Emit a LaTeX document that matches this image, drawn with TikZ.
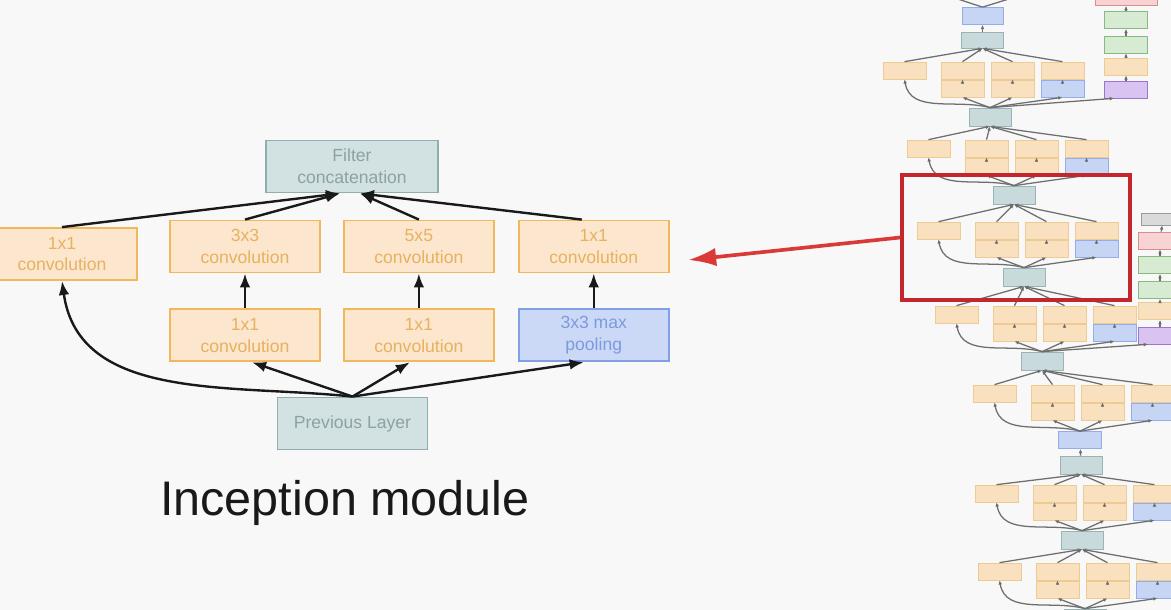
\documentclass[tikz,border=0pt]{standalone}
\usepackage{fontspec}
\setmainfont{Liberation Sans}
\usetikzlibrary{arrows, arrows.meta, positioning, calc}
\definecolor{conv_edge}{HTML}{F0B85A}
\definecolor{conv_fill}{HTML}{FCE6CE}
\definecolor{conv_text}{HTML}{E6B25E}
\definecolor{pool_edge}{HTML}{7F9FE6}
\definecolor{pool_fill}{HTML}{CBD9F6}
\definecolor{pool_text}{HTML}{7C9AE0}
\definecolor{cat_edge}{HTML}{8FAEB0}
\definecolor{cat_fill}{HTML}{D2E1E2}
\definecolor{cat_text}{HTML}{8CA2A5}
\definecolor{lens_red}{HTML}{C3262D}
\definecolor{arrow_red}{HTML}{D93A37}
\definecolor{page_bg}{HTML}{F8F8F8}
\definecolor{th_orange}{HTML}{F9E1C0}
\definecolor{th_orange_e}{HTML}{EFCB94}
\definecolor{th_teal}{HTML}{C8DADB}
\definecolor{th_teal_e}{HTML}{9AB4B6}
\definecolor{th_blue}{HTML}{C6D5F4}
\definecolor{th_blue_e}{HTML}{93ADE8}
\definecolor{th_green}{HTML}{D6EBD2}
\definecolor{th_green_e}{HTML}{86BA82}
\definecolor{th_pink}{HTML}{F7D3D3}
\definecolor{th_pink_e}{HTML}{DC8C8C}
\definecolor{th_purple}{HTML}{D9C4F1}
\definecolor{th_purple_e}{HTML}{9C74D2}
\definecolor{th_gray}{HTML}{DADADA}
\definecolor{th_gray_e}{HTML}{9A9A9A}
\definecolor{th_line}{HTML}{6E6E6E}
\tikzset{
  conv/.style={draw=conv_edge,fill=conv_fill,text=conv_text,line width=1.3pt,minimum width=3.75cm,minimum height=1.3cm,inner sep=0,align=center,font=\fontsize{12.5}{15.5}\selectfont},
  pool/.style={conv,draw=pool_edge,fill=pool_fill,text=pool_text},
  concat/.style={conv,draw=cat_edge,fill=cat_fill,text=cat_text},
  flow/.style={line width=1.7pt,-{Latex[length=10pt,width=7.5pt]},black!90},
  mini/.style={draw=th_orange_e,fill=th_orange,line width=0.5pt,minimum width=1.075cm,minimum height=0.425cm,inner sep=0},
  mini_teal/.style={mini,draw=th_teal_e,fill=th_teal,minimum width=1.05cm,minimum height=0.45cm},
  mini_blue/.style={mini,draw=th_blue_e,fill=th_blue},
  mini_green/.style={mini,draw=th_green_e,fill=th_green},
  mini_pink/.style={mini,draw=th_pink_e,fill=th_pink},
  mini_purple/.style={mini,draw=th_purple_e,fill=th_purple},
  mini_gray/.style={mini,draw=th_gray_e,fill=th_gray,minimum height=0.3cm},
  minilink/.style={th_line,line width=0.9pt,-{Latex[length=3pt,width=2.6pt]}},
  lens/.style={draw=lens_red,line width=2.4pt,minimum width=5.7cm,minimum height=3.125cm,inner sep=0},
  pointer/.style={arrow_red,line width=2.6pt,-{Latex[length=20pt,width=13pt]}},
}
% one module of the small network: #1 name, #2 left, #3 top, #4 node above, #5 style of node below
\newcommand{\incmod}[5]{%
  \node[mini] (#1a) at ({#2+21.5},{#3+8.5}) {};
  \node[mini] (#1b) at ({#2+79.5},{#3+8.5}) {};
  \node[mini] (#1c) at ({#2+129.5},{#3+8.5}) {};
  \node[mini] (#1d) at ({#2+179.5},{#3+8.5}) {};
  \node[mini] (#1e) at ({#2+79.5},{#3+26.5}) {};
  \node[mini] (#1f) at ({#2+129.5},{#3+26.5}) {};
  \node[mini_blue] (#1g) at ({#2+179.5},{#3+26.5}) {};
  \node[#5] (#1low) at ({#2+107},{#3+55}) {};
  \foreach \br in {a,b,c,d} \draw[minilink] (#1\br.north) -- (#4.south);
  \draw[minilink] (#1low.north) to[out=165,in=-80] (#1a.south);
  \foreach \br in {e,f,g} \draw[minilink] (#1low.north) -- (#1\br.south);
  \draw[minilink] ([yshift=-3pt]#1b.south) -- (#1b.south);
  \draw[minilink] ([yshift=-3pt]#1c.south) -- (#1c.south);
  \draw[minilink] ([yshift=-3pt]#1d.south) -- (#1d.south);
}

\begin{document}
\begin{tikzpicture}[x=0.025cm,y=-0.025cm]
  \useasboundingbox (0,0) rectangle (1171,610);
  \fill[page_bg] (0,0) rectangle (1171,610);
  \begin{scope}
    \clip (0,0) rectangle (1171,610);
    % inception module
    \node[concat,minimum width=4.3cm] (cat) at (352,166.5) {Filter\\concatenation};
    \node[conv] (c3) at (245,246.5) {3x3\\convolution};
    \node[conv,right=0.55cm of c3] (c5) {5x5\\convolution};
    \node[conv,right=0.575cm of c5] (c1r) {1x1\\convolution};
    \node[conv] (c1l) at (62,254) {1x1\\convolution};
    \node[conv,below=0.875cm of c3] (r3) {1x1\\convolution};
    \node[conv,below=0.875cm of c5] (r5) {1x1\\convolution};
    \node[pool,below=0.875cm of c1r] (mp) {3x3 max\\pooling};
    \node[concat] (prev) at (352.5,423.5) {Previous Layer};
    \node[anchor=base,font=\fontsize{34.5}{40}\selectfont,text=black!90] (title) at (345,515) {Inception module};

    \draw[flow] (c1l.north) -- ([xshift=-0.3cm]cat.south);
    \draw[flow] (c3.north) -- ([xshift=-0.3cm]cat.south);
    \draw[flow] (c5.north) -- ([xshift=0.2cm]cat.south);
    \draw[flow] ([xshift=-0.3cm]c1r.north) -- ([xshift=0.2cm]cat.south);
    \draw[flow] (r3) -- (c3);
    \draw[flow] (r5) -- (c5);
    \draw[flow] (mp) -- (c1r);
    \draw[flow] (prev.north) to[out=174,in=-82] (c1l.south);
    \draw[flow] (prev.north) -- ([xshift=0.175cm]r3.south);
    \draw[flow] (prev.north) -- ([xshift=-0.225cm]r5.south);
    \draw[flow] (prev.north) -- ([xshift=-0.25cm]mp.south);

    % the whole network, small
    \node[mini_blue,minimum width=1.025cm] (toppool) at (982.5,16) {};
    \node[mini_teal,minimum height=0.4cm] (topcat) at (982.5,40) {};
    \coordinate (upl) at (900,-20);
    \coordinate (upr) at (1070,-20);
    \draw[minilink] (topcat) -- (toppool);
    \draw[minilink] (toppool.north) -- (upl);
    \draw[minilink] (toppool.north) -- (upr);
    \incmod{ma}{883}{62}{topcat}{mini_teal}
    \incmod{mb}{907}{140}{malow}{mini_teal}
    \incmod{mc}{917}{222}{mblow}{mini_teal}
    \incmod{md}{935}{306}{mclow}{mini_teal}
    \incmod{me}{973}{385}{mdlow}{mini_blue}
    \node[mini_teal] (mecat) at (1081,465) {};
    \draw[minilink] (mecat) -- (melow);
    \incmod{mf}{975}{485}{mecat}{mini_teal}
    \incmod{mg}{978}{563}{mflow}{mini_teal}

    % side branches
    \node[mini_pink,minimum width=1.55cm] (asoft) at (1126,-3) {};
    \node[mini_green] (afcb) at (1126,20) {};
    \node[mini_green] (afca) at (1126,44.5) {};
    \node[mini] (aconv) at (1126,66.5) {};
    \node[mini_purple] (apool) at (1126,89.5) {};
    \draw[minilink] (apool) -- (aconv);
    \draw[minilink] (aconv) -- (afca);
    \draw[minilink] (afca) -- (afcb);
    \draw[minilink] (afcb) -- (asoft);
    \draw[minilink] (malow.north) -- ([xshift=-0.3cm]apool.south);

    \node[mini_gray] (bsoftx) at (1163,219) {};
    \node[mini_pink] (bsoft) at (1160,240.5) {};
    \node[mini_green] (bfcb) at (1160,265) {};
    \node[mini_green] (bfca) at (1160,290) {};
    \node[mini] (bconv) at (1160,311) {};
    \node[mini_purple] (bpool) at (1160,335.5) {};
    \draw[minilink] (bpool) -- (bconv);
    \draw[minilink] (bconv) -- (bfca);
    \draw[minilink] (bfca) -- (bfcb);
    \draw[minilink] (bfcb) -- (bsoft);
    \draw[minilink] (bsoft) -- (bsoftx);
    \draw[minilink] (mdlow.north) -- ([xshift=-0.3cm]bpool.south);

    % highlight
    \node[lens] (lens) at (1016,237.5) {};
    \coordinate (target) at (688,260);
    \draw[pointer] (lens.west) -- (target);
  \end{scope}
\end{tikzpicture}
\end{document}
